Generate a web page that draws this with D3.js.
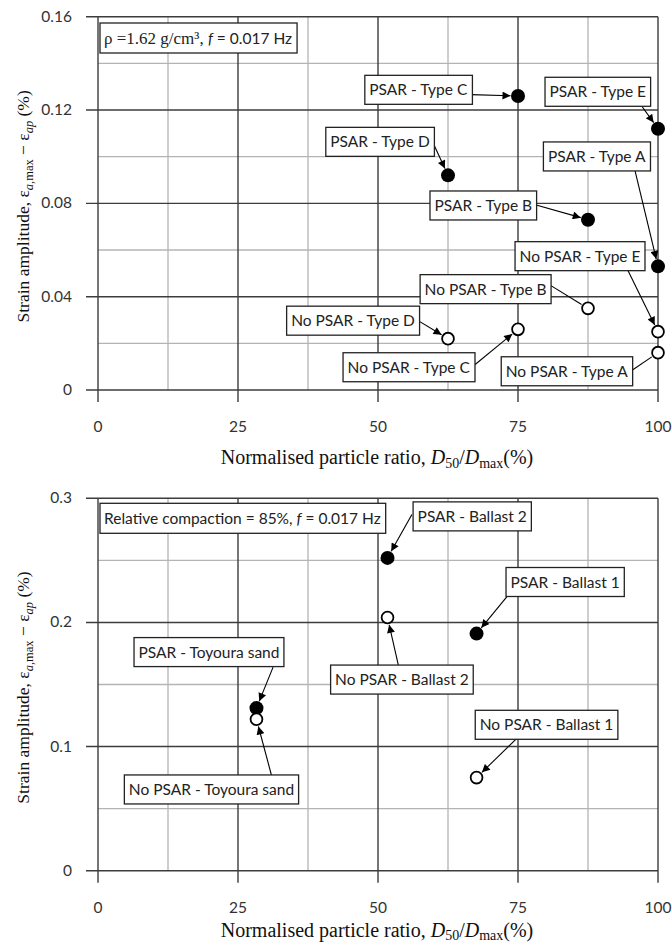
<!DOCTYPE html>
<html><head><meta charset="utf-8">
<script src="https://cdn.jsdelivr.net/npm/d3@7"></script>
<style>body{margin:0;background:#fff} svg{display:block}</style>
</head><body>
<script>
// ---------- data ----------
const xTicks = [0, 25, 50, 75, 100];
const topYTicks = [0, 0.04, 0.08, 0.12, 0.16];
const topYTickLabels = ["0", "0.04", "0.08", "0.12", "0.16"];
const bottomYTicks = [0, 0.1, 0.2, 0.3];
const bottomYTickLabels = ["0", "0.1", "0.2", "0.3"];

const topTypes = ["Type A", "Type B", "Type C", "Type D", "Type E"];
const topX = [100, 87.5, 75, 62.5, 100];
const topPSAR = [0.053, 0.073, 0.126, 0.092, 0.112];
const topNoPSAR = [0.016, 0.035, 0.026, 0.022, 0.025];

const bottomMaterials = ["Ballast 1", "Ballast 2", "Toyoura sand"];
const bottomX = [67.6, 51.7, 28.3];
const bottomPSAR = [0.191, 0.252, 0.131];
const bottomNoPSAR = [0.075, 0.204, 0.122];

// ---------- annotation layout (pixel offsets from the point) ----------
// [boxCenterDx, boxCenterDy, arrowStartDx, arrowStartDy, hasHead]
const topPSARLayout = [
  [-61.3, -109.9, -23, -95.7, true],
  [-104.7, -14.2, -52.7, -15, true],
  [-99.7, -6.2, -47.3, -1.4, true],
  [-68, -33.5, -14.3, -31, true],
  [-60.2, -36.9, -16.3, -22.7, true]
];
const topNoPSARLayout = [
  [-91.3, 18.6, -27, 18.3, false],
  [-102.4, -19.2, -38.7, -23.7, false],
  [-109.3, 37.9, -44.7, 36.7, true],
  [-95, -18, -30.3, -18.3, true],
  [-78, -75.5, -30.3, -61.7, true]
];
const bottomPSARLayout = [
  [88.6, -51.6, 30.6, -37.3, true],
  [84.7, -41.5, 24.4, -43.3, true],
  [-47.5, -56, 16.6, -41, true]
];
const bottomNoPSARLayout = [
  [70, -52.8, 40, -39, true],
  [14.4, 62.1, 11, 48.3, true],
  [-45, 70.2, 15, 56, true]
];

const W = 672, H = 945;
const svg = d3.select("body").append("svg").attr("width", W).attr("height", H);
const defs = svg.append("defs");
defs.append("marker").attr("id", "ah").attr("viewBox", "0 0 10 10")
  .attr("refX", 10).attr("refY", 5).attr("markerWidth", 9).attr("markerHeight", 8)
  .attr("markerUnits", "userSpaceOnUse").attr("orient", "auto")
  .append("path").attr("d", "M0,0 L10,5 L0,10 z").attr("fill", "#000");

const LABEL_FONT = "Lato, 'Open Sans', sans-serif";
const SERIF = "'Liberation Serif', 'Times New Roman', serif";
const LFS = 15.5;

function panel(opt) {
  const x = d3.scaleLinear().domain([0, 100]).range([98, 658]);
  const y = d3.scaleLinear().domain(opt.yDomain).range(opt.yRange);
  const g = svg.append("g");
  const yMajor = opt.yTicks;
  const step = yMajor[1] - yMajor[0];
  const yMinor = yMajor.slice(0, -1).map(v => v + step / 2);
  const xMinor = xTicks.slice(0, -1).map(v => v + 12.5);

  // minor grid
  g.selectAll(".xmin").data(xMinor).join("line")
    .attr("x1", d => x(d)).attr("x2", d => x(d)).attr("y1", y.range()[0]).attr("y2", y.range()[1])
    .attr("stroke", "#b4b4b4").attr("stroke-width", 1.3);
  g.selectAll(".ymin").data(yMinor).join("line")
    .attr("y1", d => y(d)).attr("y2", d => y(d)).attr("x1", 98).attr("x2", 658)
    .attr("stroke", "#b4b4b4").attr("stroke-width", 1.3);
  // major grid + ticks
  g.selectAll(".xmaj").data(xTicks).join("line")
    .attr("x1", d => x(d)).attr("x2", d => x(d)).attr("y1", y.range()[0] + 12).attr("y2", y.range()[1])
    .attr("stroke", "#3c3c3c").attr("stroke-width", 1.4);
  g.selectAll(".ymaj").data(yMajor).join("line")
    .attr("y1", d => y(d)).attr("y2", d => y(d)).attr("x1", 86).attr("x2", 658)
    .attr("stroke", "#3c3c3c").attr("stroke-width", 1.4);

  // tick labels
  g.selectAll(".xl").data(xTicks).join("text")
    .attr("x", d => x(d)).attr("y", y.range()[0] + 42)
    .attr("text-anchor", "middle").attr("font-family", LABEL_FONT).attr("font-size", 15.5)
    .attr("fill", "#333").text(d => d);
  g.selectAll(".yl").data(yMajor).join("text")
    .attr("x", 72).attr("y", d => y(d) + 5)
    .attr("text-anchor", "end").attr("font-family", LABEL_FONT).attr("font-size", 15.5)
    .attr("fill", "#333").text((d, i) => opt.yTickLabels[i]);

  // axis titles
  const xt = g.append("text").attr("x", 377).attr("y", y.range()[0] + opt.xTitleOff)
    .attr("text-anchor", "middle").attr("font-family", SERIF).attr("font-size", 20).attr("fill", "#111");
  xt.append("tspan").text("Normalised particle ratio, ");
  xt.append("tspan").attr("font-style", "italic").text("D");
  xt.append("tspan").attr("font-size", 14).attr("dy", 3.5).text("50");
  xt.append("tspan").attr("dy", -3.5).text("/");
  xt.append("tspan").attr("font-style", "italic").text("D");
  xt.append("tspan").attr("font-size", 14).attr("dy", 3.5).text("max");
  xt.append("tspan").attr("dy", -3.5).text("(%)");

  const cy = (y.range()[0] + y.range()[1]) / 2 + 3;
  const yt = g.append("text").attr("transform", `translate(29,${cy}) rotate(-90)`)
    .attr("text-anchor", "middle").attr("font-family", SERIF).attr("font-size", 17.5).attr("fill", "#111");
  yt.append("tspan").text("Strain amplitude, ε");
  yt.append("tspan").attr("font-size", 12.5).attr("dy", 4).attr("font-style", "italic").text("a");
  yt.append("tspan").attr("font-size", 12.5).text(",max");
  yt.append("tspan").attr("dy", -4).text(" − ε");
  yt.append("tspan").attr("font-size", 12.5).attr("dy", 4).attr("font-style", "italic").text("ap");
  yt.append("tspan").attr("dy", -4).text(" (%)");

  // annotations
  const annots = [];
  opt.names.forEach((n, i) => {
    annots.push({ label: "PSAR - " + n, px: x(opt.xs[i]), py: y(opt.psar[i]), lay: opt.psarLayout[i] });
    annots.push({ label: "No PSAR - " + n, px: x(opt.xs[i]), py: y(opt.nopsar[i]), lay: opt.nopsarLayout[i] });
  });
  const ag = g.append("g");
  annots.forEach(a => {
    const [bdx, bdy, sdx, sdy, head] = a.lay;
    const sx = a.px + sdx, sy = a.py + sdy;
    const len = Math.hypot(sdx, sdy);
    const ex = a.px + sdx / len * 7.5, ey = a.py + sdy / len * 7.5;
    const ln = ag.append("line").attr("x1", sx).attr("y1", sy).attr("x2", ex).attr("y2", ey)
      .attr("stroke", "#000").attr("stroke-width", 1.1);
    if (head) ln.attr("marker-end", "url(#ah)");
  });
  annots.forEach(a => {
    const [bdx, bdy] = a.lay;
    const cx = a.px + bdx, cyy = a.py + bdy;
    const bg = ag.append("g");
    const rect = bg.append("rect").attr("fill", "#fff").attr("stroke", "#222").attr("stroke-width", 1.3);
    const t = bg.append("text").attr("x", cx).attr("y", cyy + 5.5).attr("text-anchor", "middle")
      .attr("font-family", LABEL_FONT).attr("font-size", LFS).attr("fill", "#222").text(a.label);
    const bb = t.node().getBBox();
    rect.attr("x", bb.x - 4.5).attr("y", cyy - 14.5).attr("width", bb.width + 9).attr("height", 29);
  });

  // info box
  const ib = g.append("g");
  const ir = ib.append("rect").attr("fill", "#fff").attr("stroke", "#222").attr("stroke-width", 1.3);
  const it = ib.append("text").attr("x", 104).attr("y", opt.infoY + 5.5)
    .attr("font-family", LABEL_FONT).attr("font-size", LFS).attr("fill", "#222");
  opt.info(it);
  const ibb = it.node().getBBox();
  ir.attr("x", 100).attr("y", opt.infoY - 15).attr("width", ibb.width + 9).attr("height", 30);

  // points
  g.selectAll(".pf").data(opt.xs).join("circle")
    .attr("cx", d => x(d)).attr("cy", (d, i) => y(opt.psar[i])).attr("r", 7).attr("fill", "#000");
  g.selectAll(".po").data(opt.xs).join("circle")
    .attr("cx", d => x(d)).attr("cy", (d, i) => y(opt.nopsar[i])).attr("r", 5.9)
    .attr("fill", "#fff").attr("stroke", "#000").attr("stroke-width", 1.8);
}

panel({
  yDomain: [0, 0.16], yRange: [390, 16.7], yTicks: topYTicks, yTickLabels: topYTickLabels,
  names: topTypes, xs: topX, psar: topPSAR, nopsar: topNoPSAR,
  psarLayout: topPSARLayout, nopsarLayout: topNoPSARLayout,
  infoY: 38, xTitleOff: 74,
  info: t => {
    t.append("tspan").attr("font-family", SERIF).attr("font-size", 17).text("ρ =1.62 g/cm³, ");
    t.append("tspan").attr("font-style", "italic").text("f");
    t.append("tspan").text(" = 0.017 Hz");
  }
});
panel({
  yDomain: [0, 0.3], yRange: [870.7, 498.3], yTicks: bottomYTicks, yTickLabels: bottomYTickLabels,
  names: bottomMaterials, xs: bottomX, psar: bottomPSAR, nopsar: bottomNoPSAR,
  psarLayout: bottomPSARLayout, nopsarLayout: bottomNoPSARLayout,
  infoY: 518.3, xTitleOff: 66,
  info: t => {
    t.append("tspan").text("Relative compaction = 85%, ");
    t.append("tspan").attr("font-style", "italic").text("f");
    t.append("tspan").text(" = 0.017 Hz");
  }
});
</script>
</body></html>
